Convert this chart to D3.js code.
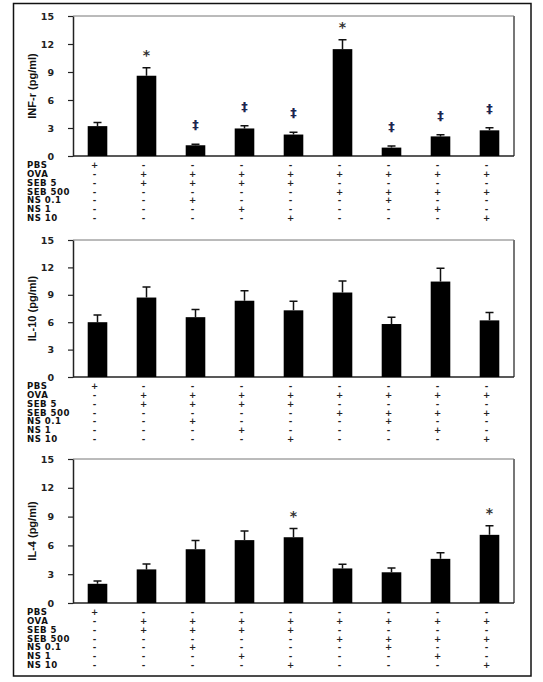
<!DOCTYPE html>
<html>
<head>
<meta charset="utf-8">
<script src="https://cdn.jsdelivr.net/npm/d3@7"></script>
<style>
  body { margin: 0; background: #fff; }
  svg { display: block; }
</style>
</head>
<body>
<div id="chart"></div>
<script>
// Groups (x categories), one per column of the treatment table
const groups = ["PBS", "OVA+SEB5", "SEB5+NS0.1", "SEB5+NS1", "SEB5+NS10",
                "OVA+SEB500", "SEB500+NS0.1", "SEB500+NS1", "SEB500+NS10"];

// Treatment table rows and their +/- per group
const treatments = ["PBS", "OVA", "SEB 5", "SEB 500", "NS 0.1", "NS 1", "NS 10"];
const signs = [
    "+--------",
    "-++++++++",
    "-++++----",
    "-----++++",
    "--+---+--",
    "---+---+-",
    "----+---+"
];

const yTicks = [0, 3, 6, 9, 12, 15];

// INF-r
const ifnMean = [3.2, 8.6, 1.15, 2.95, 2.3, 11.45, 0.9, 2.1, 2.75];
const ifnErr  = [0.4, 0.85, 0.1, 0.28, 0.25, 1.0, 0.17, 0.18, 0.28];
const ifnSig  = ["", "*", "‡", "‡", "‡", "*", "‡", "‡", "‡"];

// IL-10
const il10Mean = [6.0, 8.7, 6.55, 8.35, 7.3, 9.25, 5.8, 10.45, 6.2];
const il10Err  = [0.8, 1.15, 0.85, 1.1, 1.0, 1.25, 0.75, 1.45, 0.85];
const il10Sig  = ["", "", "", "", "", "", "", "", ""];

// IL-4
const il4Mean = [2.0, 3.5, 5.6, 6.55, 6.85, 3.6, 3.2, 4.6, 7.1];
const il4Err  = [0.3, 0.55, 0.9, 0.95, 0.9, 0.43, 0.45, 0.63, 0.95];
const il4Sig  = ["", "", "", "", "*", "", "", "", "*"];

const panels = [
    { label: "INF-r (pg/ml)", mean: ifnMean, err: ifnErr, sig: ifnSig, top: 16, bottom: 156 },
    { label: "IL-10 (pg/ml)", mean: il10Mean, err: il10Err, sig: il10Sig, top: 240, bottom: 377 },
    { label: "IL-4 (pg/ml)", mean: il4Mean, err: il4Err, sig: il4Sig, top: 459, bottom: 603 }
];

const W = 543, H = 682;
const left = 73, right = 514;

const svg = d3.select("#chart")
    .append("svg")
    .attr("width", W)
    .attr("height", H);

// outer frame
svg.append("rect")
    .attr("x", 13.5)
    .attr("y", 3.5)
    .attr("width", 517.5)
    .attr("height", 672.5)
    .attr("fill", "none")
    .attr("stroke", "#111")
    .attr("stroke-width", 1.5);

const x = d3.scaleBand()
    .domain(groups)
    .range([left, right])
    .paddingInner(0.6)
    .paddingOuter(0.3);

panels.forEach(p => {
    const g = svg.append("g");

    const y = d3.scaleLinear()
        .domain([0, 15])
        .range([p.bottom, p.top]);

    // plot box top and right edges
    g.append("line")
        .attr("x1", left).attr("x2", right)
        .attr("y1", p.top).attr("y2", p.top)
        .attr("stroke", "#777").attr("stroke-width", 1);
    g.append("line")
        .attr("x1", right).attr("x2", right)
        .attr("y1", p.top).attr("y2", p.bottom)
        .attr("stroke", "#777").attr("stroke-width", 2);

    // Y axis
    const yAxis = g.append("g")
        .attr("transform", `translate(${left},0)`)
        .call(d3.axisLeft(y).tickValues(yTicks).tickSize(5).tickPadding(14).tickSizeOuter(0));
    yAxis.select(".domain").attr("stroke", "#222").attr("stroke-width", 1.5);
    yAxis.selectAll(".tick line").attr("stroke", "#222").attr("stroke-width", 1.2);
    yAxis.selectAll("text")
        .style("font-family", "'DejaVu Sans', Verdana, sans-serif")
        .style("font-weight", "bold")
        .style("font-size", "9.5px")
        .attr("fill", "#222");

    // X axis baseline
    g.append("line")
        .attr("x1", left).attr("x2", right)
        .attr("y1", y(0)).attr("y2", y(0))
        .attr("stroke", "#222").attr("stroke-width", 1.5);

    // Y axis label
    g.append("text")
        .attr("transform", `translate(36,${(p.top + p.bottom) / 2}) rotate(-90)`)
        .attr("text-anchor", "middle")
        .style("font-family", "'Liberation Sans', Arial, sans-serif")
        .style("font-weight", "bold")
        .style("font-size", "11px")
        .attr("fill", "#111")
        .text(p.label);

    const rows = groups.map((name, i) => ({ name, mean: p.mean[i], err: p.err[i], sig: p.sig[i] }));

    // error bars (upper whisker only)
    g.selectAll(".err")
        .data(rows)
        .join("path")
        .attr("class", "err")
        .attr("d", d => {
            const cx = x(d.name) + x.bandwidth() / 2;
            const yt = y(d.mean + d.err);
            return `M${cx},${y(d.mean)}V${yt}M${cx - 4},${yt}H${cx + 4}`;
        })
        .attr("stroke", "#111")
        .attr("stroke-width", 1.5)
        .attr("fill", "none");

    // bars
    g.selectAll(".bar")
        .data(rows)
        .join("rect")
        .attr("class", "bar")
        .attr("x", d => x(d.name))
        .attr("width", x.bandwidth())
        .attr("y", d => y(d.mean))
        .attr("height", d => y(0) - y(d.mean))
        .attr("fill", "#000");

    // significance marks
    g.selectAll(".sig")
        .data(rows.filter(d => d.sig))
        .join("text")
        .attr("class", "sig")
        .attr("x", d => x(d.name) + x.bandwidth() / 2)
        .attr("y", d => y(d.mean + d.err) - (d.sig === "*" ? 8 : 15))
        .attr("text-anchor", "middle")
        .style("font-family", "'DejaVu Sans', sans-serif")
        .style("font-weight", "bold")
        .style("font-size", d => d.sig === "*" ? "14px" : "13px")
        .attr("fill", d => d.sig === "*" ? "#333" : "#1c2550")
        .text(d => d.sig);

    // treatment table
    const rowStep = 8.83;
    const table = g.append("g")
        .attr("transform", `translate(0,${p.bottom + 9})`);

    treatments.forEach((t, r) => {
        const ty = r * rowStep;
        table.append("text")
            .attr("x", 27)
            .attr("y", ty)
            .attr("dy", "0.35em")
            .style("font-family", "'DejaVu Sans', Verdana, sans-serif")
            .style("font-weight", "bold")
            .style("font-size", "8.6px")
            .style("letter-spacing", "0.5px")
            .attr("fill", "#111")
            .text(t);

        table.selectAll(`.mk${r}`)
            .data(groups.map((name, i) => ({ name, s: signs[r][i] })))
            .join("text")
            .attr("x", d => x(d.name) + x.bandwidth() / 2 - 3)
            .attr("y", ty)
            .attr("dy", "0.35em")
            .attr("text-anchor", "middle")
            .style("font-family", "'DejaVu Sans', sans-serif")
            .style("font-weight", "bold")
            .style("font-size", "8.6px")
            .attr("fill", "#222")
            .text(d => d.s === "+" ? "+" : "-");
    });
});
</script>
</body>
</html>
